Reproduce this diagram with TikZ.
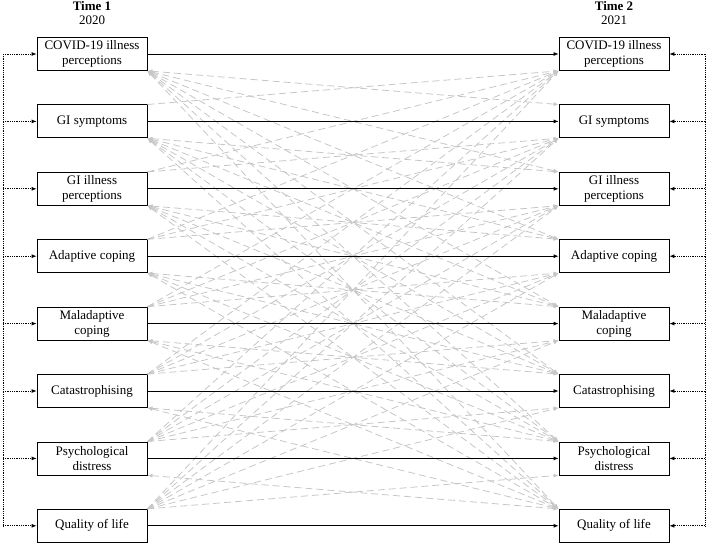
\documentclass[tikz,border=0pt]{standalone}
\usepackage{fontspec}
\setmainfont{Liberation Serif}
\usetikzlibrary{arrows.meta}
\begin{document}
\begin{tikzpicture}[x=1pt,y=-1pt,
  box/.style={draw,thick,minimum width=110pt,minimum height=33pt,align=center,inner sep=1pt,font=\fontsize{13}{15}\selectfont},
  auto1/.style={-{Latex[length=5pt,width=4pt]},thick},
  dot1/.style={densely dotted,thick,-{Latex[length=5pt,width=4pt]}},
  cross/.style={draw=gray!45,dashed,dash pattern=on 7pt off 4pt,thick}]
\useasboundingbox (0,0) rectangle (708,545);
\def\labs{{"COVID-19 illness\\perceptions","GI symptoms","GI illness\\perceptions","Adaptive coping","Maladaptive\\coping","Catastrophising","Psychological\\distress","Quality of life"}}
\node[font=\bfseries\fontsize{13}{15}\selectfont] at (92,6) {Time 1};
\node[font=\fontsize{13}{15}\selectfont] at (92,20) {2020};
\node[font=\bfseries\fontsize{13}{15}\selectfont] at (614,6) {Time 2};
\node[font=\fontsize{13}{15}\selectfont] at (614,20) {2021};
\foreach \i in {0,...,7}{
  \pgfmathsetmacro\yy{54+67.4*\i}
  \node[box] (L\i) at (92,\yy) {\pgfmathparse{\labs[\i]}\pgfmathresult};
  \node[box] (R\i) at (614,\yy) {\pgfmathparse{\labs[\i]}\pgfmathresult};
}
% cross-lagged
\foreach \i in {0,...,7}{
  \foreach \j in {0,...,7}{
    \ifnum\i<\j
      \draw[cross,{Latex[length=5pt,width=4pt]}-{Latex[length=5pt,width=4pt]}] (L\i.south east) -- (R\j.north west);
    \fi
    \ifnum\i>\j
      \draw[cross,-{Latex[length=5pt,width=4pt]}] (L\i.north east) -- (R\j.south west);
    \fi
  }
}
\foreach \i in {0,...,7}{
  \draw[auto1] (L\i) -- (R\i);
}
\coordinate (lt) at (3,54); \coordinate (lb) at (3,526);
\coordinate (rt) at (705,54); \coordinate (rb) at (705,526);
\draw[densely dotted,thick] (lt) -- (lb);
\draw[densely dotted,thick] (rt) -- (rb);
\foreach \i in {0,...,7}{
  \draw[dot1] (L\i.west -| lt) -- (L\i.west);
  \draw[dot1] (R\i.east -| rt) -- (R\i.east);
}
\end{tikzpicture}
\end{document}
